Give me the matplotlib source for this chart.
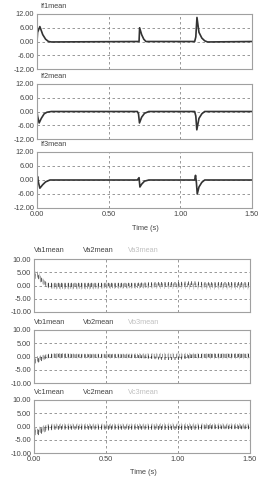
import matplotlib
matplotlib.use("Agg")
import matplotlib.pyplot as plt
import numpy as np

plt.rcParams['font.family'] = ['Liberation Sans', 'DejaVu Sans']
plt.rcParams['hatch.linewidth'] = 0.5

# current traces (breakpoints)
t_if1 = [0.0, 0.004, 0.02, 0.04, 0.06, 0.08, 0.10, 0.70, 0.712, 0.716, 0.73, 0.745, 0.76, 1.10, 1.108, 1.116, 1.13, 1.15, 1.17, 1.19, 1.5]
if1 = [0.0, 4.0, 6.5, 3.0, 1.0, 0.0, -0.2, 0.0, 0.0, 6.0, 3.0, 1.0, 0.0, 0.0, 2.0, 10.5, 4.0, 1.5, 0.3, -0.2, 0.0]

t_if2 = [0.0, 0.004, 0.015, 0.03, 0.05, 0.07, 0.10, 0.70, 0.708, 0.715, 0.73, 0.75, 0.78, 1.10, 1.108, 1.115, 1.13, 1.15, 1.17, 1.5]
if2 = [0.0, -2.0, -5.0, -3.0, -1.0, -0.3, 0.0, 0.0, -1.0, -5.0, -2.5, -0.8, 0.0, 0.0, -2.0, -8.0, -3.0, -1.0, 0.0, 0.0]

t_if3 = [0.0, 0.004, 0.01, 0.02, 0.04, 0.06, 0.09, 0.70, 0.712, 0.718, 0.73, 0.75, 0.78, 1.10, 1.106, 1.112, 1.118, 1.13, 1.15, 1.17, 1.5]
if3 = [0.0, 1.5, -1.0, -3.5, -2.0, -0.8, 0.0, 0.0, 1.0, -3.0, -1.8, -0.5, 0.0, 0.0, 2.0, -1.0, -6.0, -3.0, -1.0, 0.0, 0.0]

# voltage traces: ripple envelope (lower / upper) read at coarse times
tv = [0.0, 0.02, 0.04, 0.06, 0.08, 0.10, 0.15, 0.2, 0.3, 0.4, 0.5, 0.6, 0.7, 0.8, 0.9, 1.0, 1.1, 1.2, 1.3, 1.4, 1.5]

va1_lo = [2.0, 3.0, 2.0, 1.0, 0.0, -0.5, -0.5, -0.5, -0.4, -0.4, -0.3, -0.3, -0.2, 0.0, 0.0, 0.0, 0.2, 0.0, 0.0, 0.0, 0.0]
va1_hi = [4.0, 4.5, 3.5, 2.5, 1.5, 1.0, 1.0, 1.0, 1.0, 1.0, 1.0, 1.0, 1.0, 1.2, 1.3, 1.3, 1.6, 1.2, 1.3, 1.3, 1.3]
va2_lo = [3.0, 3.5, 1.5, 0.5, -0.5, -1.0, -1.2, -1.2, -1.2, -1.2, -1.0, -1.0, -1.0, -0.8, -0.6, -0.6, -0.6, -0.8, -0.8, -0.8, -0.8]
va2_hi = [5.0, 5.5, 4.0, 2.5, 1.5, 0.8, 0.8, 0.8, 0.8, 0.8, 0.8, 0.8, 0.8, 0.8, 0.8, 0.8, 0.8, 0.8, 0.8, 0.8, 0.8]
va3_lo = [3.5, 4.0, 2.5, 1.0, 0.0, -1.0, -1.5, -1.5, -1.5, -1.5, -1.3, -1.3, -1.2, -1.2, -1.3, -1.3, -1.5, -1.5, -1.5, -1.5, -1.5]
va3_hi = [5.0, 5.5, 4.5, 3.0, 1.5, 0.5, 0.5, 0.5, 0.5, 0.5, 0.5, 0.5, 0.5, 0.5, 0.5, 0.5, 0.5, 0.5, 0.5, 0.5, 0.5]

vb1_lo = [-2.5, -2.5, -2.0, -1.5, -1.0, -0.5, -0.3, -0.3, -0.3, -0.3, -0.3, -0.3, -0.5, -0.8, -1.3, -1.3, -0.5, -0.3, -0.3, -0.3, -0.3]
vb1_hi = [-1.0, -0.8, -0.5, 0.0, 0.5, 0.8, 1.0, 1.0, 0.8, 0.8, 0.8, 0.8, 0.6, 0.3, -0.3, -0.3, 0.8, 1.0, 1.0, 1.0, 1.0]
vb2_lo = [-2.5, -2.0, -1.5, -1.0, -0.8, -0.5, -0.5, -0.5, -0.5, -0.5, -0.5, -0.5, -0.5, -0.5, -0.5, -0.5, -0.5, -0.5, -0.5, -0.5, -0.5]
vb2_hi = [-0.5, 0.0, 0.3, 0.6, 0.8, 1.0, 1.2, 1.2, 1.0, 1.0, 1.0, 1.0, 1.0, 1.0, 1.0, 1.0, 1.0, 1.0, 1.0, 1.0, 1.0]
vb3_lo = [-3.0, -2.5, -2.0, -1.5, -1.0, -0.8, -0.8, -0.8, -0.8, -0.8, -0.8, -0.8, -0.8, -0.8, -0.8, -0.8, -0.8, -1.0, -1.0, -1.0, -1.0]
vb3_hi = [-1.0, -0.5, 0.0, 0.3, 0.6, 0.8, 1.0, 1.0, 1.0, 1.0, 1.0, 1.0, 1.2, 1.3, 1.4, 1.4, 1.4, 1.3, 1.3, 1.3, 1.3]

vc1_lo = [-3.0, -3.5, -3.0, -2.5, -2.0, -1.5, -1.2, -1.2, -1.2, -1.2, -1.2, -1.2, -1.2, -1.2, -1.3, -1.3, -1.3, -1.0, -1.0, -1.0, -1.0]
vc1_hi = [-1.0, -1.5, -1.0, -0.5, 0.0, 0.3, 0.2, 0.2, 0.2, 0.2, 0.3, 0.2, 0.2, 0.2, 0.2, 0.2, 0.2, 0.5, 0.3, 0.3, 0.3]
vc2_lo = [-2.5, -3.0, -2.5, -2.0, -1.5, -1.0, -0.8, -0.8, -0.8, -0.8, -0.8, -0.8, -0.8, -0.8, -0.8, -0.8, -0.8, -0.8, -0.8, -0.8, -0.8]
vc2_hi = [-0.5, -1.0, -0.5, 0.0, 0.5, 0.8, 0.8, 0.8, 0.8, 0.8, 0.8, 0.8, 0.8, 0.8, 0.8, 0.8, 0.8, 0.8, 0.8, 0.8, 0.8]
vc3_lo = [-2.0, -2.5, -2.0, -1.5, -1.0, -0.5, -0.5, -0.5, -0.5, -0.5, -0.5, -0.5, -0.5, -0.5, -0.3, -0.3, -0.3, -0.5, -0.5, -0.5, -0.5]
vc3_hi = [0.0, -0.5, 0.0, 0.5, 0.8, 1.0, 1.2, 1.2, 1.2, 1.2, 1.2, 1.2, 1.2, 1.2, 1.4, 1.4, 1.4, 1.3, 1.3, 1.3, 1.3]

top_names = ["If1mean", "If2mean", "If3mean"]
v_names = [["Va1mean", "Va2mean", "Va3mean"],
           ["Vb1mean", "Vb2mean", "Vb3mean"],
           ["Vc1mean", "Vc2mean", "Vc3mean"]]
x_ticks = [0.0, 0.5, 1.0, 1.5]
x_labels = ["0.00", "0.50", "1.00", "1.50"]

W, H = 268, 480
fig = plt.figure(figsize=(W / 100, H / 100), dpi=100)
fig.patch.set_facecolor("white")

txt = "#444444"
fs = 5.3


def style(ax, yt, ylab, show_x):
    ax.set_xlim(0, 1.5)
    ax.set_ylim(yt[-1], yt[0])
    ax.set_yticks(yt)
    ax.set_yticklabels(ylab)
    ax.set_xticks(x_ticks)
    ax.set_xticklabels(x_labels if show_x else [])
    ax.tick_params(length=0, labelsize=fs, colors=txt, pad=2)
    for s in ax.spines.values():
        s.set_color("#a0a0a0")
        s.set_linewidth(0.8)
    ax.grid(True, color="#888888", linestyle=(0, (3, 3)), linewidth=0.6)
    ax.set_axisbelow(True)


def box(top, bottom, left, right):
    return fig.add_axes([left / W, 1 - bottom / H, (right - left) / W, (bottom - top) / H])


# current panels
top_rows = [(14, 69), (84, 139), (152, 208)]
for i, (tt, dd) in enumerate(zip([t_if1, t_if2, t_if3], [if1, if2, if3])):
    ax = box(top_rows[i][0], top_rows[i][1], 37, 252)
    style(ax, [12, 6, 0, -6, -12], ["12.00", "6.00", "0.00", "-6.00", "-12.00"], i == 2)
    ax.plot(tt, dd, color="#333333", linewidth=1.2)
    fig.text(40 / W, 1 - (top_rows[i][0] - 8) / H, top_names[i], fontsize=fs, color=txt, va="center")
fig.text(145 / W, 1 - 228 / H, "Time (s)", fontsize=fs, color=txt, ha="center", va="center")

# voltage panels
v_rows = [(259, 312), (330, 383), (400, 453)]
v_data = [
    [(va1_lo, va1_hi), (va2_lo, va2_hi), (va3_lo, va3_hi)],
    [(vb1_lo, vb1_hi), (vb2_lo, vb2_hi), (vb3_lo, vb3_hi)],
    [(vc1_lo, vc1_hi), (vc2_lo, vc2_hi), (vc3_lo, vc3_hi)],
]
v_cols = ["#111111", "#6a6a6a", "#bdbdbd"]
v_hatch = ["|||||", "||||||", "||||"]
name_cols = ["#444444", "#444444", "#c0c0c0"]
name_x = [34, 83, 128]
for i in range(3):
    ax = box(v_rows[i][0], v_rows[i][1], 34, 250)
    style(ax, [10, 5, 0, -5, -10], ["10.00", "5.00", "0.00", "-5.00", "-10.00"], i == 2)
    # lightest first, darkest last
    for k in [2, 1, 0]:
        lo, hi = v_data[i][k]
        ax.fill_between(tv, lo, hi, facecolor="none", edgecolor=v_cols[k],
                        hatch=v_hatch[k], linewidth=0)
    for k in range(3):
        fig.text(name_x[k] / W, 1 - (v_rows[i][0] - 8) / H, v_names[i][k],
                 fontsize=fs, color=name_cols[k], va="center")
fig.text(143 / W, 1 - 473 / H, "Time (s)", fontsize=fs, color=txt, ha="center", va="center")

fig.savefig("out.png", dpi=100, facecolor="white")
